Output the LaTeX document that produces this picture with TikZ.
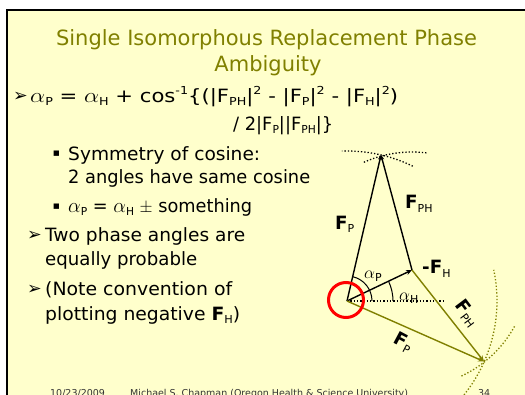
\documentclass[tikz,border=0pt]{standalone}
\usepackage{fontspec}
\usepackage{graphicx}
\setmainfont{DejaVu Sans}
\usetikzlibrary{arrows.meta}
\definecolor{slidebg}{RGB}{255,255,204}
\definecolor{olivec}{RGB}{128,128,0}
\definecolor{redc}{RGB}{255,0,0}
\newcommand{\lowidx}[1]{\raisebox{-0.35ex}{\fontsize{11}{11}\selectfont\mdseries #1}}
\newcommand{\highidx}[1]{\raisebox{0.75ex}{\fontsize{11}{11}\selectfont #1}}
\newcommand{\bF}{\textbf{F}}
\newcommand{\alp}{{\fontsize{22}{22}\selectfont$\alpha$}}
\newcommand{\fitw}[2]{\resizebox{#1}{\height}{#2}}
\newcommand{\arrb}{{\fontsize{17.5}{17.5}\selectfont ➢}}
\newcommand{\sqb}{{\fontsize{7}{7}\selectfont ■}}
\begin{document}
\begin{tikzpicture}[x=1pt,y=1pt,
  titletxt/.style={anchor=base, inner sep=0pt, text=olivec, font=\fontsize{21}{25}\selectfont},
  txt/.style={anchor=base west, inner sep=0pt, font=\fontsize{18.3}{22}\selectfont},
  lbl/.style={anchor=base west, inner sep=0pt, font=\fontsize{18.3}{22}\selectfont},
  glbl/.style={inner sep=0pt, font=\fontsize{16}{20}\selectfont},
  foot/.style={anchor=base west, inner sep=0pt, text=black!80, font=\fontsize{9.5}{11}\selectfont},
  vec/.style={line width=1.4pt, black},
  ovec/.style={line width=1.4pt, olivec},
  dotl/.style={line width=1.3pt, dotted},
  angarc/.style={line width=1pt, black}]
\useasboundingbox (0,0) rectangle (525,-394);
\clip (0,0) rectangle (525,-394);
\fill[white] (0,0) rectangle (525,-394);
\fill[slidebg] (7,-10) rectangle (530,-400);
\draw[line width=2.2pt] (7,-400) -- (7,-10) -- (530,-10);

% title
\node[titletxt] (t1) at (266.5,-45) {Single Isomorphous Replacement Phase};
\node[titletxt] (t2) at (268,-71) {Ambiguity};

% bullets
\node[txt] (a1) at (13,-101) {\arrb};
\node[txt] (l1) at (30,-102) {\fitw{368pt}{\alp\lowidx{P} = \alp\lowidx{H} + cos\highidx{-1}\{(|F\lowidx{PH}|\highidx{2} - |F\lowidx{P}|\highidx{2} - |F\lowidx{H}|\highidx{2})}};
\node[txt] (l2) at (233,-130) {\fitw{100pt}{/ 2|F\lowidx{P}||F\lowidx{PH}|\}}};
\node[txt] (s1) at (53,-155) {\sqb};
\node[txt] (s1t) at (68,-160) {\fitw{192pt}{Symmetry of cosine:}};
\node[txt] (s1u) at (68,-183) {\fitw{242pt}{2 angles have same cosine}};
\node[txt] (s2) at (53,-208) {\sqb};
\node[txt] (s2t) at (68,-212) {\fitw{184pt}{\alp\lowidx{P} = \alp\lowidx{H} $\pm$ something}};
\node[txt] (a2) at (27,-240.5) {\arrb};
\node[txt] (a2t) at (45,-241.5) {\fitw{200pt}{Two phase angles are}};
\node[txt] (a2u) at (45,-265) {\fitw{152pt}{equally probable}};
\node[txt] (a3) at (27,-294) {\arrb};
\node[txt] (a3t) at (45,-295) {\fitw{187pt}{(Note convention of}};
\node[txt] (a3u) at (45,-320) {\fitw{195pt}{plotting negative \bF\lowidx{H})}};

% footer
\node[foot] (f1) at (50,-396) {10/23/2009};
\node[foot] (f2) at (130,-396) {Michael S. Chapman (Oregon Health \& Science University)};
\node[foot] (f3) at (478,-396) {34};

% diagram
\coordinate (O) at (347,-301);
\coordinate (H) at (412,-270);
\coordinate (T) at (381,-155);
\coordinate (B) at (484,-361.5);
\coordinate (X) at (443,-301);

\draw[dotl] (O) ++(64:150) arc[start angle=64,end angle=92,radius=150];
\draw[dotl] (H) ++(83:118) arc[start angle=83,end angle=115,radius=118];
\draw[dotl, olivec] (O) ++(-40:150) arc[start angle=-40,end angle=12,radius=150];
\draw[dotl, olivec] (H) ++(-65:117) arc[start angle=-65,end angle=-28,radius=117];

\draw[dotl] (O) -- (X);
\draw[vec, -{Stealth[length=5pt,width=4pt]}] (O) -- (T);
\draw[vec, -{Stealth[length=5pt,width=4pt]}] (H) -- (T);
\draw[vec, -{Stealth[length=6pt,width=5pt]}] (O) -- (H);
\draw[ovec, -{Stealth[length=6pt,width=5pt]}] (O) -- (B);
\draw[ovec, -{Stealth[length=6pt,width=5pt]}] (H) -- (B);

\draw[angarc] (O) ++(0:25) arc[start angle=0,end angle=77,radius=25];
\draw[angarc] (O) ++(0:46) arc[start angle=0,end angle=25.6,radius=46];

\draw[redc, line width=3pt] (346,-300) circle[radius=17.5];

\node[lbl] (lfp) at (335,-229) {\bF\lowidx{P}};
\node[lbl] (lfph) at (405,-208.5) {\bF\lowidx{PH}};
\node[lbl] (lfh) at (422,-273.5) {\textbf{-F}\lowidx{H}};
\node[glbl, anchor=base west] (lap) at (364,-278) {$\alpha$\lowidx{P}};
\node[glbl, anchor=base west] (lah) at (399,-300) {$\alpha$\lowidx{H}};
\node[lbl, anchor=center, rotate=-53] (ofph) at (467,-313) {\bF\lowidx{PH}};
\node[lbl, anchor=center, rotate=-28] (ofp) at (403,-343) {\bF\lowidx{P}};
\end{tikzpicture}
\end{document}
